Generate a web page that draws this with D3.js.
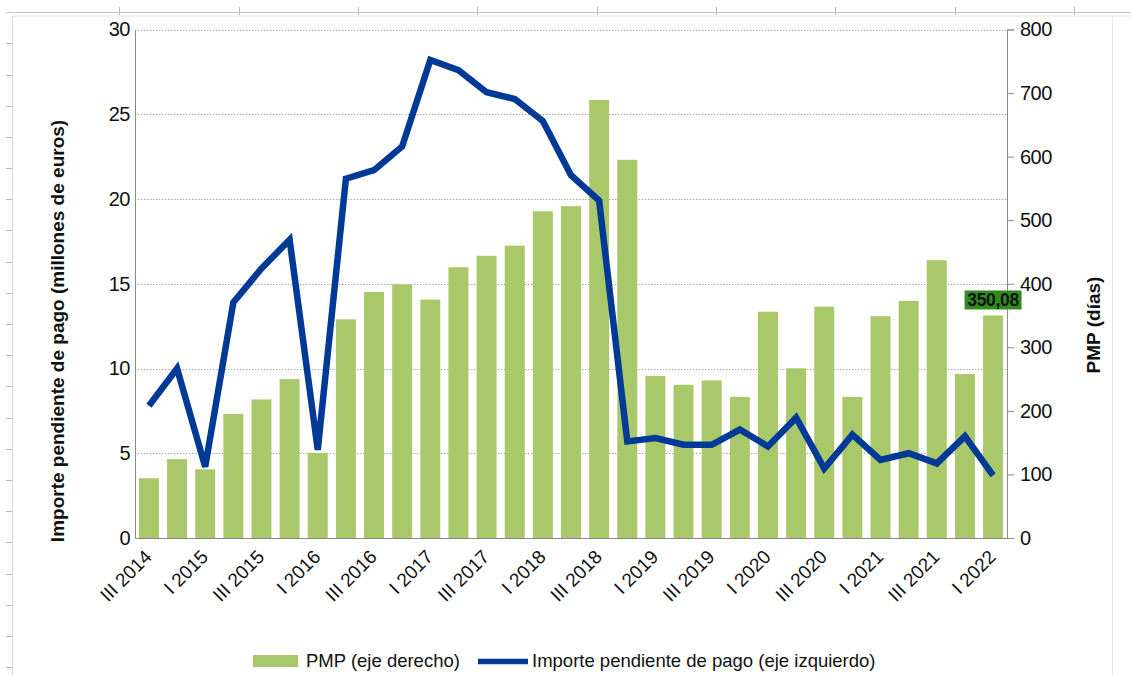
<!DOCTYPE html>
<html>
<head>
<meta charset="utf-8">
<script src="https://cdn.jsdelivr.net/npm/d3@7"></script>
<style>
  html, body { margin: 0; padding: 0; background: #fff; }
  svg { display: block; font-family: "Liberation Sans", Arial, sans-serif; }
</style>
</head>
<body>
<svg id="chart" width="1131" height="675"></svg>
<script>
const categories = [
  "III 2014","IV 2014","I 2015","II 2015","III 2015","IV 2015",
  "I 2016","II 2016","III 2016","IV 2016","I 2017","II 2017",
  "III 2017","IV 2017","I 2018","II 2018","III 2018","IV 2018",
  "I 2019","II 2019","III 2019","IV 2019","I 2020","II 2020",
  "III 2020","IV 2020","I 2021","II 2021","III 2021","IV 2021","I 2022"
];
const pmpValues = [94, 124, 108, 195, 218, 250, 134, 344, 387, 399, 375, 426, 444, 460, 514, 522, 689, 595, 255, 241, 248, 222, 356, 267, 364, 222, 349, 373, 437, 258, 350.08];
const importeValues = [7.8, 10.0, 4.2, 13.9, 15.9, 17.6, 5.2, 21.2, 21.7, 23.1, 28.2, 27.6, 26.3, 25.9, 24.6, 21.4, 19.9, 5.7, 5.9, 5.5, 5.5, 6.4, 5.4, 7.1, 4.1, 6.1, 4.6, 5.0, 4.4, 6.0, 3.7];
const leftTicks = [0, 5, 10, 15, 20, 25, 30];
const rightTicks = [0, 100, 200, 300, 400, 500, 600, 700, 800];
const xTickLabels = categories.filter((d, i) => i % 2 === 0);
const highlightLabel = "350,08";
const legendLabels = ["PMP (eje derecho)", "Importe pendiente de pago (eje izquierdo)"];
const leftTitle = "Importe pendiente de pago (millones de euros)";
const rightTitle = "PMP (días)";

const svg = d3.select("#chart");
const W = 1131, H = 675;
const plot = { left: 135, right: 1007, top: 29.5, bottom: 538 };

// background decoration (spreadsheet frame)
const deco = svg.append("g");
deco.append("line").attr("x1", 6).attr("x2", W).attr("y1", 12.5).attr("y2", 12.5).attr("stroke", "#c4c4c4");
deco.append("line").attr("x1", 12).attr("x2", W).attr("y1", 16).attr("y2", 16).attr("stroke", "#e2e2e2");
for (let x = 119.3; x < W; x += 119.35) {
  deco.append("line").attr("x1", Math.round(x) + 0.5).attr("x2", Math.round(x) + 0.5).attr("y1", 7).attr("y2", 15).attr("stroke", "#b8b8b8");
}
deco.append("line").attr("x1", 12.5).attr("x2", 12.5).attr("y1", 16).attr("y2", H).attr("stroke", "#d4d4d4");
for (let y = 43.3; y < H; y += 31.2) {
  deco.append("line").attr("x1", 6).attr("x2", 12).attr("y1", Math.round(y) + 0.5).attr("y2", Math.round(y) + 0.5).attr("stroke", "#b8b8b8");
}
deco.append("line").attr("x1", 1112.5).attr("x2", 1112.5).attr("y1", 16).attr("y2", H).attr("stroke", "#e6e6e6");

// scales
const x = d3.scaleBand().domain(categories).range([plot.left, plot.right]).paddingInner(0.29).paddingOuter(0.14);
const yL = d3.scaleLinear().domain([0, 30]).range([plot.bottom, plot.top]);
const yR = d3.scaleLinear().domain([0, 800]).range([plot.bottom, plot.top]);

// gridlines (left axis)
svg.append("g").selectAll("line").data(leftTicks.filter(d => d > 0)).join("line")
  .attr("x1", plot.left).attr("x2", plot.right)
  .attr("y1", d => Math.round(yL(d)) + 0.5).attr("y2", d => Math.round(yL(d)) + 0.5)
  .attr("stroke", "#a8a8a8").attr("stroke-dasharray", "1.5,1.5");

// bars
svg.append("g").selectAll("rect").data(pmpValues).join("rect")
  .attr("x", (d, i) => x(categories[i]))
  .attr("width", x.bandwidth())
  .attr("y", d => yR(d))
  .attr("height", d => yR(0) - yR(d))
  .attr("fill", "#a9c86a");

// line
const line = d3.line().x((d, i) => x(categories[i]) + x.bandwidth() / 2).y(d => yL(d));
svg.append("path").datum(importeValues).attr("d", line)
  .attr("fill", "none").attr("stroke", "#003a96").attr("stroke-width", 6.5)
  .attr("stroke-linejoin", "miter").attr("stroke-miterlimit", 2.5);

// axes
const leftAxis = d3.axisLeft(yL).tickValues(leftTicks).tickSize(0).tickPadding(5);
const gL = svg.append("g").attr("transform", `translate(${plot.left},0)`).call(leftAxis);
gL.select(".domain").attr("stroke", "#8a8a8a");
gL.selectAll("text").attr("font-size", 20).attr("fill", "#111").attr("font-family", "Liberation Sans, Arial, sans-serif").attr("letter-spacing", "-0.5");

const rightAxis = d3.axisRight(yR).tickValues(rightTicks).tickSize(7).tickPadding(6);
const gR = svg.append("g").attr("transform", `translate(${plot.right},0)`).call(rightAxis);
gR.select(".domain").attr("stroke", "#8a8a8a");
gR.selectAll(".tick line").attr("stroke", "#8a8a8a");
gR.selectAll("text").attr("font-size", 20).attr("fill", "#111").attr("font-family", "Liberation Sans, Arial, sans-serif").attr("letter-spacing", "-0.5");

const bottomAxis = d3.axisBottom(x).tickValues(xTickLabels).tickSize(0).tickFormat("");
const gB = svg.append("g").attr("transform", `translate(0,${plot.bottom})`).call(bottomAxis);
gB.select(".domain").attr("stroke", "#8a8a8a");

// rotated category labels (explicit 45° matrix)
const c45 = Math.SQRT1_2;
const xl = svg.append("g").selectAll("g").data(xTickLabels).join("g")
  .attr("transform", d => `matrix(${c45},${-c45},${c45},${c45},${x(d) + x.bandwidth() / 2 + 4},${plot.bottom + 20})`);
xl.append("text")
  .attr("x", 0).attr("y", 0)
  .attr("text-anchor", "end")
  .attr("font-size", 19).attr("fill", "#111")
  .text(d => d);

// value label on last bar
const lastI = pmpValues.length - 1;
const lx = x(categories[lastI]) + x.bandwidth() / 2;
const ly = yR(pmpValues[lastI]);
const lbl = svg.append("g");
lbl.append("rect").attr("x", lx - 28.5).attr("y", ly - 25).attr("width", 57).attr("height", 19).attr("fill", "#2f8c1f");
lbl.append("text").attr("x", lx).attr("y", ly - 9.5).attr("text-anchor", "middle")
  .attr("font-size", 17.5).attr("font-weight", "bold").attr("fill", "#111").attr("letter-spacing", "-0.3").text(highlightLabel);

// axis titles
svg.append("text").attr("transform", `translate(64,331) rotate(-90)`).attr("text-anchor", "middle")
  .attr("font-size", 19).attr("font-weight", "bold").attr("fill", "#111").text(leftTitle);
svg.append("text").attr("transform", `translate(1100,325) rotate(-90)`).attr("text-anchor", "middle")
  .attr("font-size", 19).attr("font-weight", "bold").attr("fill", "#111").text(rightTitle);

// legend
const lg = svg.append("g");
lg.append("rect").attr("x", 253).attr("y", 655).attr("width", 45).attr("height", 12).attr("fill", "#a9c86a");
lg.append("text").attr("x", 306).attr("y", 667).attr("font-size", 18.5).attr("fill", "#111").text(legendLabels[0]);
lg.append("line").attr("x1", 478).attr("x2", 528).attr("y1", 661.5).attr("y2", 661.5).attr("stroke", "#003a96").attr("stroke-width", 5.5);
lg.append("text").attr("x", 532).attr("y", 667).attr("font-size", 18.5).attr("fill", "#111").text(legendLabels[1]);
</script>
</body>
</html>
